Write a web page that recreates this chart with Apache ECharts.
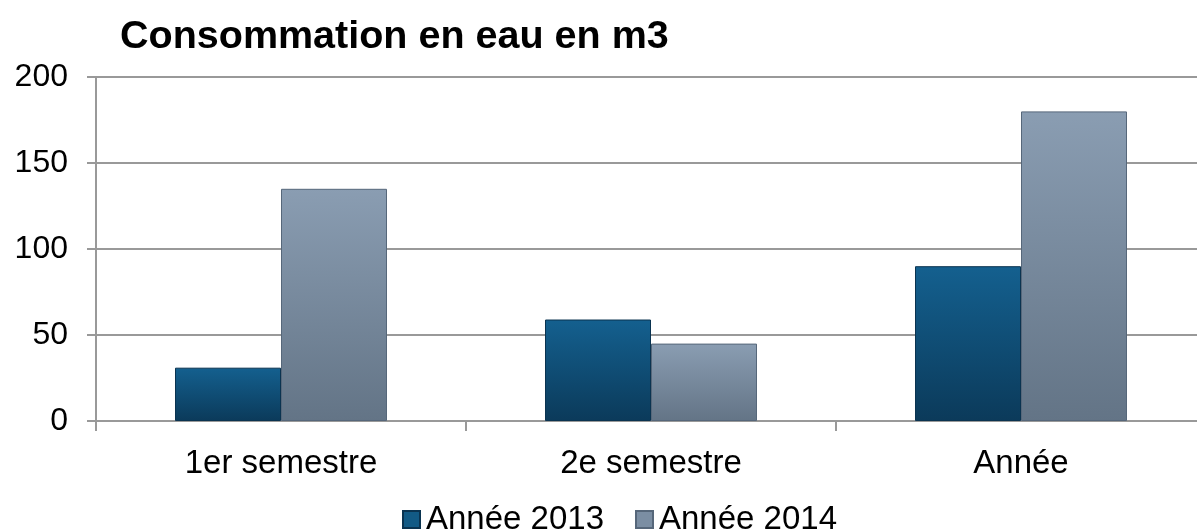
<!doctype html>
<html lang="fr">
<head>
<meta charset="UTF-8">
<title>Consommation en eau en m3</title>
<script src="https://cdn.jsdelivr.net/npm/echarts@6/dist/echarts.min.js"></script>
<style>
    html, body { margin: 0; padding: 0; background: #fff; overflow: hidden; }
    /* plot runs a bit past the right edge, like the original */
    #main { width: 1206px; height: 532px; }
</style>
</head>
<body>
<div id="main"></div>
<script>
    var categories = ['1er semestre', '2e semestre', 'Année'];
    var annee2013 = [31, 59, 90];
    var annee2014 = [135, 45, 180];
    var yTicks = [0, 50, 100, 150, 200];

    function grad(top, bottom) {
        return new echarts.graphic.LinearGradient(0, 0, 0, 1, [
            {offset: 0, color: top},
            {offset: 1, color: bottom}
        ]);
    }

    var font = '"Liberation Sans", Arial, sans-serif';
    var myChart = echarts.init(document.getElementById('main'));
    var option = {
        animation: false,
        title: {
            text: 'Consommation en eau en m3',
            left: 120,
            top: 17,
            padding: 0,
            textStyle: {fontFamily: font, fontSize: 39.5, fontWeight: 'bold', color: '#000'}
        },
        legend: {
            top: 503,
            left: 402,
            padding: 0,
            itemGap: 31,
            itemWidth: 17,
            itemHeight: 17,
            icon: 'rect',
            textStyle: {fontFamily: font, fontSize: 33, color: '#000', padding: [0, 0, 0, 1]},
            data: [
                {name: 'Année 2013', itemStyle: {color: '#125a85'}},
                {name: 'Année 2014', itemStyle: {color: '#7b8ea3'}}
            ]
        },
        grid: {left: 96, top: 77, right: 0, bottom: 111},
        xAxis: {
            type: 'category',
            data: categories,
            axisLine: {lineStyle: {color: '#999', width: 2}},
            axisTick: {show: true, length: 10, lineStyle: {color: '#999', width: 2}},
            axisLabel: {fontFamily: font, fontSize: 33, color: '#000', margin: 26}
        },
        yAxis: {
            type: 'value',
            min: yTicks[0],
            max: yTicks[yTicks.length - 1],
            interval: 50,
            axisLine: {show: true, lineStyle: {color: '#999', width: 2}},
            axisTick: {show: true, length: 9, lineStyle: {color: '#999', width: 2}},
            splitLine: {lineStyle: {color: '#999', width: 2}},
            axisLabel: {fontFamily: font, fontSize: 32, color: '#000', margin: 28}
        },
        series: [
            {
                name: 'Année 2013',
                type: 'bar',
                data: annee2013,
                barWidth: 106,
                barGap: '0%',
                itemStyle: {color: grad('#14608f', '#0b3a5a'), borderColor: '#0a3350', borderWidth: 1}
            },
            {
                name: 'Année 2014',
                type: 'bar',
                data: annee2014,
                barWidth: 106,
                itemStyle: {color: grad('#8a9db2', '#637486'), borderColor: '#56677a', borderWidth: 1}
            }
        ]
    };
    myChart.setOption(option);
</script>
</body>
</html>
